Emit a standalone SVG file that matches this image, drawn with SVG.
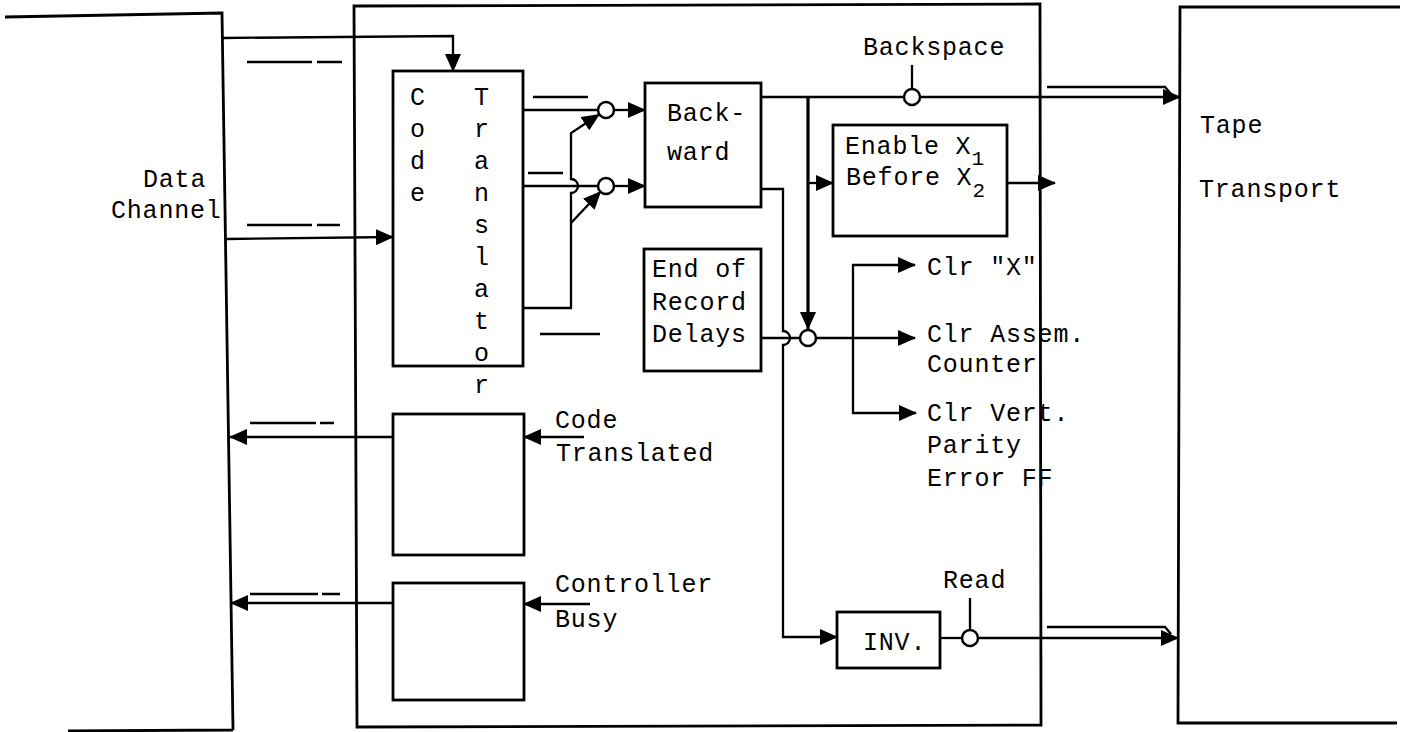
<svg xmlns="http://www.w3.org/2000/svg" width="1403" height="732" viewBox="0 0 1403 732">
<style>
  .box { fill: none; stroke: #000; stroke-width: 2.8; }
  .wire { fill: none; stroke: #000; stroke-width: 2.3; }
  .bar { fill: none; stroke: #000; stroke-width: 2.3; }
  .gate { fill: #fff; stroke: #000; stroke-width: 2.5; }
  .t { font-family: "Liberation Mono", "DejaVu Sans Mono", monospace; font-size: 25px; letter-spacing: 0.8px; fill: #000; }
  .sub { font-size: 21px; }
</style>
<defs>
  <marker id="arr" markerUnits="userSpaceOnUse" markerWidth="18" markerHeight="16" refX="17" refY="8" orient="auto">
    <path d="M0,0 L18,8 L0,16 Z" fill="#000"/>
  </marker>
</defs>
<rect width="1403" height="732" fill="#fff"/>

<g id="connectors">
  <!-- data channel to code translator -->
  <path class="wire" d="M223,38 L453,36 V71" marker-end="url(#arr)"/>
  <path class="wire" d="M226,239 L393,237" marker-end="url(#arr)"/>
  <!-- code translator outputs to gates -->
  <path class="wire" d="M523,110 H599"/>
  <path class="wire" d="M523,186 H599"/>
  <path class="wire" d="M523,308 H571 V193 a7,7 0 0 0 0,-14 V133 L599,114.5" marker-end="url(#arr)"/>
  <path class="wire" d="M571,223 L600.5,191.8" marker-end="url(#arr)"/>
  <!-- gates to backward -->
  <path class="wire" d="M614,110 H645" marker-end="url(#arr)"/>
  <path class="wire" d="M614,186 H645" marker-end="url(#arr)"/>
  <!-- backward top output to tape transport -->
  <path class="wire" d="M761,97 H1180" marker-end="url(#arr)"/>
  <path class="wire" d="M1047,87 H1165 L1171,94"/>
  <path class="wire" d="M912,65 V89"/>
  <!-- vertical to enable and clear gate -->
  <path class="wire" style="stroke-width:3.2" d="M808,97 V329" marker-end="url(#arr)"/>
  <path class="wire" d="M808,183 H833" marker-end="url(#arr)"/>
  <path class="wire" d="M1007,183 H1055" marker-end="url(#arr)"/>
  <!-- backward lower output to INV -->
  <path class="wire" d="M761,189 H783 V331 a7,7 0 0 1 0,14 V637 H837" marker-end="url(#arr)"/>
  <!-- delays to clear gate -->
  <path class="wire" d="M761,338 H800"/>
  <!-- clear outputs -->
  <path class="wire" d="M816,338 H915" marker-end="url(#arr)"/>
  <path class="wire" d="M853,338 V265 H915" marker-end="url(#arr)"/>
  <path class="wire" d="M853,338 V413 H916" marker-end="url(#arr)"/>
  <!-- INV to tape transport -->
  <path class="wire" d="M940,638 H962"/>
  <path class="wire" d="M978,638 H1178" marker-end="url(#arr)"/>
  <path class="wire" d="M1047,627 H1165 L1171,634"/>
  <path class="wire" d="M970,598 V630"/>
  <!-- status outputs to data channel -->
  <path class="wire" d="M393,437 H230" marker-end="url(#arr)"/>
  <path class="wire" d="M584,437 H524" marker-end="url(#arr)"/>
  <path class="wire" d="M393,603 H231" marker-end="url(#arr)"/>
  <path class="wire" d="M590,604 H524" marker-end="url(#arr)"/>
  <!-- overbars -->
  <path class="bar" d="M247,62 H312 M317,62 H342"/>
  <path class="bar" d="M247,225 H312 M317,225 H340"/>
  <path class="bar" d="M250,423 H316 M320,423 H334"/>
  <path class="bar" d="M250,594 H318 M322,594 H340"/>
  <path class="bar" d="M533,97 H588"/>
  <path class="bar" d="M528,173 H563"/>
  <path class="bar" d="M540,334 H600"/>
</g>

<g id="data-channel">
  <path class="box" d="M5,17 L222,13 L233,730 M68,731 L233,730"/>
  <text class="t" x="143" y="187">Data</text>
  <text class="t" x="111" y="218">Channel</text>
</g>

<g id="controller">
  <path class="box" d="M354,6 L1040,4 L1041,725 L357,727 Z"/>
</g>

<g id="tape-transport">
  <path class="box" d="M1400,7 L1180,7 L1178,723 L1397,723"/>
  <text class="t" x="1200" y="133">Tape</text>
  <text class="t" x="1199" y="197">Transport</text>
</g>

<g id="code-translator">
  <rect class="box" x="393" y="71" width="130" height="295"/>
  <text class="t" text-anchor="middle">
    <tspan x="418" y="105">C</tspan><tspan x="418" y="137">o</tspan><tspan x="418" y="169">d</tspan><tspan x="418" y="201">e</tspan>
  </text>
  <text class="t" text-anchor="middle">
    <tspan x="482" y="105">T</tspan><tspan x="482" y="137">r</tspan><tspan x="482" y="169">a</tspan><tspan x="482" y="201">n</tspan><tspan x="482" y="233">s</tspan><tspan x="482" y="265">l</tspan><tspan x="482" y="297">a</tspan><tspan x="482" y="329">t</tspan><tspan x="482" y="361">o</tspan><tspan x="482" y="393">r</tspan>
  </text>
</g>

<g id="gate-1"><circle class="gate" cx="606" cy="110" r="8"/></g>
<g id="gate-2"><circle class="gate" cx="606" cy="186" r="8"/></g>

<g id="backward">
  <rect class="box" x="645" y="83" width="116" height="124"/>
  <text class="t" x="667" y="121">Back-</text>
  <text class="t" x="667" y="160">ward</text>
</g>

<g id="backspace">
  <circle class="gate" cx="912" cy="97" r="8"/>
  <text class="t" x="863" y="55">Backspace</text>
</g>

<g id="enable">
  <rect class="box" x="833" y="125" width="174" height="111"/>
  <text class="t" x="845" y="154">Enable X<tspan class="sub" dy="11">1</tspan></text>
  <text class="t" x="846" y="185">Before X<tspan class="sub" dy="12">2</tspan></text>
</g>

<g id="end-of-record">
  <rect class="box" x="644" y="249" width="117" height="122"/>
  <text class="t" x="652" y="277">End of</text>
  <text class="t" x="652" y="310">Record</text>
  <text class="t" x="652" y="342">Delays</text>
</g>

<g id="clear-gate"><circle class="gate" cx="808" cy="338" r="8"/></g>

<g id="clr-labels">
  <text class="t" x="927" y="275">Clr "X"</text>
  <text class="t" x="927" y="342">Clr Assem.</text>
  <text class="t" x="927" y="372">Counter</text>
  <text class="t" x="927" y="421">Clr Vert.</text>
  <text class="t" x="927" y="453">Parity</text>
  <text class="t" x="927" y="486">Error FF</text>
</g>

<g id="code-translated">
  <rect class="box" x="393" y="414" width="131" height="141"/>
  <text class="t" x="555" y="428">Code</text>
  <text class="t" x="556" y="461">Translated</text>
</g>

<g id="controller-busy">
  <rect class="box" x="393" y="583" width="131" height="117"/>
  <text class="t" x="555" y="592">Controller</text>
  <text class="t" x="555" y="627">Busy</text>
</g>

<g id="inv">
  <rect class="box" x="837" y="612" width="103" height="56"/>
  <text class="t" x="863" y="650">INV.</text>
</g>

<g id="read">
  <circle class="gate" cx="970" cy="638" r="8"/>
  <text class="t" x="943" y="588">Read</text>
</g>
</svg>
